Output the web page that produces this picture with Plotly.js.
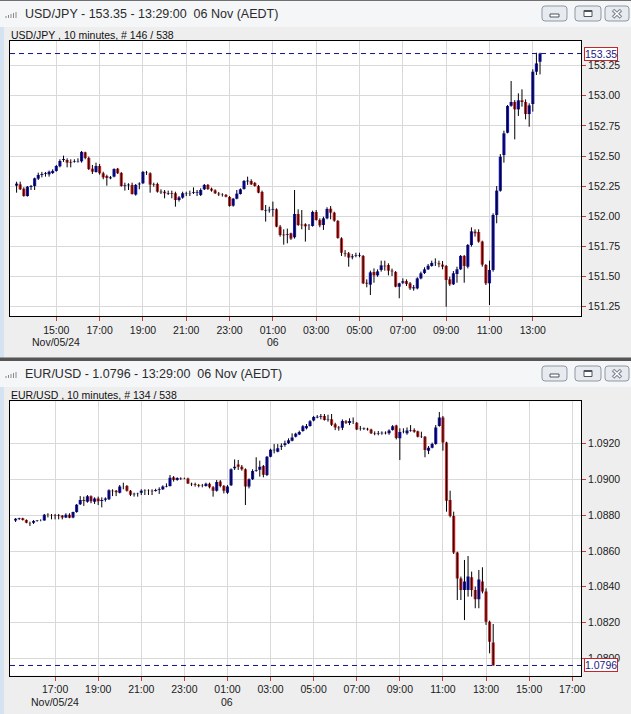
<!DOCTYPE html>
<html><head><meta charset="utf-8">
<script src="https://cdn.plot.ly/plotly-3.0.1.min.js"></script>
<style>html,body{margin:0;padding:0;background:#eeeeee;overflow:hidden}#chart{width:631px;height:714px}</style>
</head><body><div id="chart"></div>
<script>
// ---------------- DATA ----------------
const usdjpyTitle = 'USD/JPY - 153.35 - 13:29:00 \u00a006 Nov (AEDT)';
const usdjpySubtitle = 'USD/JPY , 10 minutes, # 146 / 538';
const eurusdTitle = 'EUR/USD - 1.0796 - 13:29:00 \u00a006 Nov (AEDT)';
const eurusdSubtitle = 'EUR/USD , 10 minutes, # 134 / 538';

const barMinutes = 10;
const usdjpyStart = '2024-11-05 13:10';
const eurusdStart = '2024-11-05 15:10';
const usdjpyLast = 153.35;
const eurusdLast = 1.0796;
const usdjpyLastLabel = '153.35';
const eurusdLastLabel = '1.0796';

const usdjpyOpen = [
152.254,152.265,152.229,152.168,152.243,152.251,152.312,152.343,152.351,152.348,
152.359,152.376,152.415,152.467,152.467,152.451,152.451,152.456,152.456,152.531,
152.484,152.395,152.368,152.417,152.357,152.334,152.315,152.329,152.395,152.359,
152.251,152.257,152.260,152.180,152.265,152.274,152.362,152.357,152.265,152.268,
152.199,152.204,152.188,152.191,152.191,152.135,152.155,152.188,152.191,152.193,
152.196,152.177,152.224,152.260,152.229,152.215,152.188,152.180,152.177,152.160,
152.088,152.146,152.185,152.227,152.290,152.293,152.276,152.251,152.202,152.047,
152.050,152.055,152.058,151.914,151.848,151.845,151.859,151.826,152.019,151.931,
151.934,151.920,151.920,152.036,151.969,151.928,151.983,152.063,152.030,151.961,
151.817,151.693,151.693,151.660,151.671,151.674,151.671,151.449,151.433,151.538,
151.510,151.555,151.590,151.596,151.549,151.538,151.416,151.449,151.463,151.444,
151.402,151.402,151.485,151.530,151.560,151.588,151.613,151.610,151.599,151.588,
151.477,151.436,151.521,151.560,151.671,151.582,151.762,151.873,151.870,151.790,
151.596,151.444,151.555,152.011,152.212,152.508,152.693,152.917,152.948,152.887,
152.962,152.948,152.848,152.931,153.199,153.282];
const usdjpyHigh = [
152.287,152.287,152.240,152.251,152.260,152.321,152.362,152.368,152.368,152.379,
152.390,152.426,152.473,152.503,152.481,152.473,152.473,152.481,152.542,152.536,
152.495,152.426,152.445,152.434,152.370,152.345,152.334,152.398,152.401,152.368,
152.279,152.274,152.279,152.268,152.282,152.376,152.376,152.365,152.279,152.279,
152.224,152.218,152.213,152.213,152.204,152.168,152.204,152.204,152.213,152.240,
152.218,152.232,152.268,152.268,152.238,152.224,152.202,152.191,152.185,152.168,
152.152,152.218,152.232,152.301,152.329,152.307,152.285,152.260,152.213,152.094,
152.080,152.122,152.066,151.928,151.892,151.898,151.864,152.218,152.058,152.052,
151.942,151.936,152.047,152.052,151.983,151.997,152.075,152.085,152.038,151.969,
151.826,151.720,151.704,151.687,151.698,151.698,151.679,151.477,151.549,151.568,
151.560,151.632,151.632,151.610,151.566,151.546,151.449,151.485,151.477,151.455,
151.430,151.494,151.541,151.577,151.604,151.632,151.651,151.632,151.629,151.596,
151.499,151.546,151.582,151.679,151.679,151.770,151.908,151.892,151.892,151.798,
151.604,151.632,152.025,152.251,152.516,152.710,152.923,153.122,152.964,153.020,
153.053,152.970,152.937,153.219,153.357,153.357];
const usdjpyLow = [
152.196,152.218,152.163,152.163,152.218,152.218,152.301,152.323,152.329,152.329,
152.351,152.370,152.406,152.451,152.406,152.406,152.445,152.445,152.445,152.473,
152.384,152.351,152.362,152.345,152.307,152.254,152.307,152.323,152.351,152.246,
152.213,152.218,152.180,152.171,152.224,152.268,152.343,152.196,152.246,152.196,
152.185,152.149,152.177,152.149,152.080,152.122,152.146,152.168,152.168,152.185,
152.168,152.168,152.218,152.218,152.204,152.185,152.168,152.163,152.157,152.080,
152.080,152.141,152.180,152.221,152.260,152.260,152.246,152.191,152.047,151.956,
152.030,151.997,151.909,151.831,151.765,151.776,151.804,151.815,151.920,151.892,
151.790,151.886,151.914,151.964,151.909,151.887,151.975,151.975,151.955,151.814,
151.671,151.665,151.582,151.643,151.660,151.660,151.438,151.411,151.347,151.449,
151.499,151.541,151.549,151.510,151.505,151.411,151.320,151.438,151.422,151.389,
151.383,151.394,151.477,151.521,151.555,151.582,151.588,151.577,151.560,151.250,
151.422,151.430,151.449,151.555,151.449,151.568,151.748,151.831,151.781,151.582,
151.430,151.264,151.541,151.942,152.204,152.445,152.688,152.909,152.638,152.832,
152.909,152.804,152.743,152.868,153.172,153.177];
const usdjpyClose = [
152.271,152.224,152.168,152.246,152.251,152.315,152.343,152.351,152.357,152.370,
152.376,152.417,152.459,152.475,152.445,152.445,152.456,152.459,152.534,152.484,
152.392,152.370,152.417,152.357,152.323,152.318,152.323,152.392,152.357,152.251,
152.257,152.263,152.185,152.260,152.271,152.368,152.359,152.263,152.260,152.204,
152.204,152.191,152.193,152.185,152.135,152.157,152.191,152.191,152.193,152.199,
152.202,152.218,152.260,152.227,152.213,152.191,152.182,152.177,152.163,152.085,
152.146,152.188,152.224,152.293,152.296,152.265,152.251,152.196,152.052,152.052,
152.055,152.061,151.914,151.845,151.842,151.851,151.815,152.019,151.928,151.925,
151.917,151.922,152.036,151.969,151.925,151.983,152.061,152.030,151.964,151.820,
151.698,151.687,151.657,151.668,151.676,151.679,151.444,151.441,151.535,151.510,
151.543,151.593,151.585,151.549,151.543,151.416,151.444,151.461,151.438,151.402,
151.411,151.485,151.527,151.560,151.590,151.613,151.615,151.602,151.582,151.472,
151.436,151.527,151.560,151.671,151.588,151.762,151.875,151.859,151.790,151.599,
151.444,151.555,152.011,152.213,152.494,152.688,152.915,152.948,152.887,152.962,
152.948,152.848,152.920,153.199,153.268,153.350];

const eurusdOpen = [
1.08770,1.08779,1.08783,1.08773,1.08757,1.08758,1.08768,1.08770,1.08771,1.08803,
1.08800,1.08798,1.08796,1.08798,1.08788,1.08803,1.08788,1.08818,1.08861,1.08885,
1.08876,1.08906,1.08876,1.08893,1.08879,1.08887,1.08889,1.08937,1.08937,1.08926,
1.08960,1.08963,1.08937,1.08917,1.08919,1.08926,1.08935,1.08937,1.08937,1.08935,
1.08941,1.08945,1.08961,1.08963,1.09012,1.08997,1.09008,1.09006,1.09006,1.08976,
1.08973,1.08969,1.08965,1.08963,1.08976,1.08956,1.08937,1.08988,1.08963,1.08926,
1.08967,1.09062,1.09084,1.09071,1.09057,1.08960,1.09001,1.09049,1.09055,1.09075,
1.09025,1.09127,1.09163,1.09155,1.09183,1.09193,1.09202,1.09217,1.09239,1.09252,
1.09271,1.09286,1.09299,1.09329,1.09347,1.09351,1.09355,1.09334,1.09336,1.09308,
1.09291,1.09289,1.09325,1.09315,1.09327,1.09317,1.09282,1.09284,1.09284,1.09280,
1.09258,1.09256,1.09258,1.09261,1.09258,1.09276,1.09302,1.09230,1.09265,1.09258,
1.09274,1.09276,1.09269,1.09237,1.09239,1.09161,1.09178,1.09198,1.09299,1.09347,
1.09206,1.08885,1.08796,1.08591,1.08447,1.08382,1.08382,1.08453,1.08382,1.08330,
1.08429,1.08373,1.08205,1.08088];
const eurusdHigh = [
1.08784,1.08786,1.08786,1.08777,1.08764,1.08773,1.08773,1.08777,1.08807,1.08811,
1.08807,1.08807,1.08807,1.08801,1.08811,1.08811,1.08820,1.08863,1.08907,1.08904,
1.08913,1.08911,1.08900,1.08904,1.08900,1.08900,1.08945,1.08945,1.08941,1.08969,
1.08982,1.08969,1.08941,1.08926,1.08926,1.08945,1.08945,1.08945,1.08945,1.08948,
1.08956,1.08967,1.08978,1.09025,1.09019,1.09012,1.09012,1.09010,1.09010,1.08982,
1.08982,1.08975,1.08975,1.08982,1.08982,1.08963,1.08997,1.08997,1.08969,1.08969,
1.09062,1.09112,1.09109,1.09081,1.09062,1.09006,1.09057,1.09124,1.09105,1.09081,
1.09131,1.09172,1.09198,1.09198,1.09202,1.09217,1.09230,1.09258,1.09261,1.09273,
1.09304,1.09310,1.09332,1.09355,1.09360,1.09366,1.09366,1.09362,1.09366,1.09317,
1.09299,1.09336,1.09332,1.09342,1.09347,1.09321,1.09299,1.09291,1.09289,1.09284,
1.09269,1.09271,1.09269,1.09269,1.09280,1.09304,1.09306,1.09286,1.09286,1.09291,
1.09304,1.09286,1.09273,1.09267,1.09243,1.09187,1.09206,1.09304,1.09377,1.09355,
1.09211,1.08937,1.08820,1.08596,1.08457,1.08550,1.08572,1.08485,1.08401,1.08494,
1.08509,1.08391,1.08211,1.08192];
const eurusdLow = [
1.08762,1.08773,1.08770,1.08755,1.08740,1.08751,1.08764,1.08766,1.08770,1.08788,
1.08777,1.08777,1.08777,1.08777,1.08784,1.08783,1.08783,1.08814,1.08857,1.08852,
1.08870,1.08867,1.08863,1.08857,1.08844,1.08876,1.08885,1.08907,1.08907,1.08922,
1.08945,1.08932,1.08907,1.08904,1.08904,1.08913,1.08913,1.08913,1.08913,1.08932,
1.08919,1.08941,1.08956,1.08960,1.08988,1.08993,1.08997,1.09001,1.08975,1.08963,
1.08960,1.08956,1.08956,1.08960,1.08950,1.08904,1.08932,1.08956,1.08922,1.08919,
1.08963,1.09053,1.09053,1.09049,1.08857,1.08950,1.08997,1.09043,1.09016,1.09012,
1.09019,1.09124,1.09146,1.09152,1.09165,1.09183,1.09198,1.09213,1.09235,1.09248,
1.09267,1.09280,1.09295,1.09325,1.09342,1.09336,1.09329,1.09323,1.09299,1.09276,
1.09273,1.09276,1.09310,1.09304,1.09310,1.09276,1.09273,1.09276,1.09273,1.09254,
1.09247,1.09247,1.09250,1.09252,1.09250,1.09273,1.09224,1.09109,1.09258,1.09250,
1.09267,1.09261,1.09235,1.09232,1.09124,1.09142,1.09174,1.09194,1.09295,1.09161,
1.08820,1.08788,1.08583,1.08326,1.08326,1.08214,1.08345,1.08345,1.08280,1.08280,
1.08363,1.08187,1.08028,1.07959];
const eurusdClose = [
1.08781,1.08783,1.08773,1.08758,1.08755,1.08768,1.08770,1.08771,1.08803,1.08801,
1.08798,1.08796,1.08798,1.08788,1.08803,1.08786,1.08818,1.08859,1.08885,1.08879,
1.08906,1.08878,1.08893,1.08878,1.08885,1.08893,1.08939,1.08934,1.08928,1.08961,
1.08961,1.08937,1.08915,1.08920,1.08920,1.08937,1.08937,1.08935,1.08934,1.08941,
1.08945,1.08961,1.08963,1.09010,1.08997,1.09008,1.09006,1.09004,1.08978,1.08973,
1.08969,1.08965,1.08963,1.08976,1.08956,1.08937,1.08986,1.08963,1.08937,1.08960,
1.09057,1.09071,1.09071,1.09057,1.08960,1.09001,1.09047,1.09053,1.09071,1.09027,
1.09127,1.09166,1.09166,1.09174,1.09189,1.09202,1.09219,1.09235,1.09256,1.09265,
1.09297,1.09299,1.09325,1.09349,1.09351,1.09355,1.09332,1.09336,1.09306,1.09291,
1.09286,1.09327,1.09317,1.09327,1.09325,1.09280,1.09284,1.09286,1.09280,1.09258,
1.09256,1.09258,1.09261,1.09258,1.09274,1.09297,1.09232,1.09265,1.09267,1.09274,
1.09276,1.09267,1.09239,1.09239,1.09165,1.09178,1.09198,1.09291,1.09347,1.09207,
1.08881,1.08796,1.08591,1.08447,1.08382,1.08429,1.08457,1.08382,1.08330,1.08441,
1.08373,1.08205,1.08093,1.07960];

const usdjpyTickTimes = ['2024-11-05 15:00','2024-11-05 17:00','2024-11-05 19:00','2024-11-05 21:00','2024-11-05 23:00','2024-11-06 01:00','2024-11-06 03:00','2024-11-06 05:00','2024-11-06 07:00','2024-11-06 09:00','2024-11-06 11:00','2024-11-06 13:00'];
const usdjpyTickLabels = ['15:00','17:00','19:00','21:00','23:00','01:00','03:00','05:00','07:00','09:00','11:00','13:00'];
const eurusdTickTimes = ['2024-11-05 17:00','2024-11-05 19:00','2024-11-05 21:00','2024-11-05 23:00','2024-11-06 01:00','2024-11-06 03:00','2024-11-06 05:00','2024-11-06 07:00','2024-11-06 09:00','2024-11-06 11:00','2024-11-06 13:00','2024-11-06 15:00','2024-11-06 17:00'];
const eurusdTickLabels = ['17:00','19:00','21:00','23:00','01:00','03:00','05:00','07:00','09:00','11:00','13:00','15:00','17:00'];
const usdjpyPriceTicks = [151.25, 151.50, 151.75, 152.00, 152.25, 152.50, 152.75, 153.00, 153.25];
const eurusdPriceTicks = [1.0800, 1.0820, 1.0840, 1.0860, 1.0880, 1.0900, 1.0920];
const dateRowTimesTop = ['2024-11-05 15:00','2024-11-06 01:00'];
const dateRowTimesBottom = ['2024-11-05 17:00','2024-11-06 01:00'];
const dateRowLabels = ['Nov/05/24','06'];

// ---------------- BUILD ----------------
const W = 631, H = 714;
const FONT = 'Liberation Sans, Arial, sans-serif';
const UP = '#1818c4', DOWN = '#d42a2a';
const X = v => v / W, Y = v => 1 - v / H;

function buildTimes(start, n) {
  const [d, t] = start.split(' ');
  const [yy, mm, dd] = d.split('-').map(Number);
  const [hh, mi] = t.split(':').map(Number);
  const base = Date.UTC(yy, mm - 1, dd, hh, mi);
  const out = [];
  for (let i = 0; i < n; i++) out.push(new Date(base + i * barMinutes * 60000).toISOString().slice(0, 16).replace('T', ' '));
  return out;
}

function candles(times, o, h, l, c, xa, ya) {
  const wx = [], wy = [], base = [], size = [], cols = [];
  for (let i = 0; i < times.length; i++) {
    wx.push(times[i], times[i], null); wy.push(l[i], h[i], null);
    base.push(Math.min(o[i], c[i])); size.push(Math.abs(c[i] - o[i]));
    cols.push(c[i] >= o[i] ? UP : DOWN);
  }
  return [
    {type: 'scatter', mode: 'lines', x: wx, y: wy, xaxis: xa, yaxis: ya, line: {color: '#000', width: 1}, hoverinfo: 'skip'},
    {type: 'bar', x: times, y: size, base: base, width: 520000, xaxis: xa, yaxis: ya, marker: {color: cols, line: {width: 0}}, hoverinfo: 'skip'}
  ];
}

const tTop = buildTimes(usdjpyStart, usdjpyClose.length);
const tBot = buildTimes(eurusdStart, eurusdClose.length);
const data = [
  ...candles(tTop, usdjpyOpen, usdjpyHigh, usdjpyLow, usdjpyClose, 'x', 'y'),
  ...candles(tBot, eurusdOpen, eurusdHigh, eurusdLow, eurusdClose, 'x2', 'y2')
];

const axisBase = {showline: true, linecolor: '#000', linewidth: 1, mirror: true, ticks: 'outside', ticklen: 4, tickwidth: 1, tickcolor: '#c83c3c', showgrid: true, gridcolor: '#d9d9d9', gridwidth: 1, zeroline: false, fixedrange: true, tickfont: {family: FONT, size: 10.5, color: '#1a1a1a'}};

function rr(x0, y0, x1, y1, r) {
  const a = v => X(v).toFixed(5), b = v => Y(v).toFixed(5);
  return `M${a(x0 + r)},${b(y0)} L${a(x1 - r)},${b(y0)} Q${a(x1)},${b(y0)} ${a(x1)},${b(y0 + r)} L${a(x1)},${b(y1 - r)} Q${a(x1)},${b(y1)} ${a(x1 - r)},${b(y1)} L${a(x0 + r)},${b(y1)} Q${a(x0)},${b(y1)} ${a(x0)},${b(y1 - r)} L${a(x0)},${b(y0 + r)} Q${a(x0)},${b(y0)} ${a(x0 + r)},${b(y0)} Z`;
}
const rect = (x0, y0, x1, y1, fill, line, lw, layer) => ({type: 'rect', xref: 'paper', yref: 'paper', x0: X(x0), x1: X(x1), y0: Y(y1), y1: Y(y0), fillcolor: fill, line: {color: line || fill, width: lw || 0}, layer: layer || 'above'});
const seg = (x0, y0, x1, y1, color, w) => ({type: 'line', xref: 'paper', yref: 'paper', x0: X(x0), x1: X(x1), y0: Y(y0), y1: Y(y1), line: {color: color, width: w}, layer: 'above'});

const shapes = [];
const annotations = [];

function chrome(off, title, sub) {
  shapes.push(rect(0, off, 631, off + 27, '#f5f6f8'));
  [[6, 16], [8.5, 15], [11, 14], [13.5, 13], [16, 12]].forEach(([x, top]) => shapes.push(seg(x, off + 18, x, off + top, '#8a8a8a', 1)));
  [[542, 567], [575, 601], [605, 629]].forEach(([a, b]) => shapes.push({type: 'path', xref: 'paper', yref: 'paper', path: rr(a, off + 6, b, off + 21, 3), fillcolor: '#e7eaee', line: {color: '#8f98a4', width: 1}, layer: 'above'}));
  shapes.push(rect(550, off + 14, 559, off + 17, '#ffffff', '#4d5560', 1));
  shapes.push(rect(584, off + 10.5, 592, off + 16.5, '#ffffff', '#4d5560', 1));
  shapes.push(seg(584, off + 11.2, 592, off + 11.2, '#4d5560', 1.6));
  shapes.push(seg(613, off + 10, 621, off + 17.5, '#7c8490', 3.6));
  shapes.push(seg(613, off + 17.5, 621, off + 10, '#7c8490', 3.6));
  shapes.push(seg(613.6, off + 10.6, 620.4, off + 16.9, '#ffffff', 1.4));
  shapes.push(seg(613.6, off + 16.9, 620.4, off + 10.6, '#ffffff', 1.4));
  annotations.push({xref: 'paper', yref: 'paper', x: X(23), y: Y(off + 13.5), xanchor: 'left', yanchor: 'middle', text: title, showarrow: false, font: {family: FONT, size: 12.5, color: '#2b2b2b'}});
  annotations.push({xref: 'paper', yref: 'paper', x: X(9), y: Y(off + 34.5), xanchor: 'left', yanchor: 'middle', text: sub, showarrow: false, font: {family: FONT, size: 10.5, color: '#111'}});
}

shapes.push(rect(0, 27, 4, 358, '#d5e2f2'));
shapes.push(rect(0, 387, 4, 714, '#d5e2f2'));
chrome(0, usdjpyTitle, usdjpySubtitle);
chrome(360, eurusdTitle, eurusdSubtitle);
shapes.push(rect(0, 0, 631, 1, '#707070'));
shapes.push(rect(0, 357.5, 631, 361, '#555555'));

// last price lines and boxes
shapes.push({type: 'line', xref: 'x domain', yref: 'y', x0: 0, x1: 1, y0: usdjpyLast, y1: usdjpyLast, line: {color: '#14148c', width: 1, dash: '5px,4px'}, layer: 'above'});
shapes.push({type: 'line', xref: 'x2 domain', yref: 'y2', x0: 0, x1: 1, y0: eurusdLast, y1: eurusdLast, line: {color: '#14148c', width: 1, dash: '5px,4px'}, layer: 'above'});
annotations.push({xref: 'paper', yref: 'y', x: X(584), y: usdjpyLast, xanchor: 'left', yanchor: 'middle', text: usdjpyLastLabel, showarrow: false, bgcolor: '#ffffff', bordercolor: '#c0282d', borderwidth: 1, borderpad: 0, font: {family: FONT, size: 10.5, color: '#1a1a80'}});
annotations.push({xref: 'paper', yref: 'y2', x: X(584), y: eurusdLast, xanchor: 'left', yanchor: 'middle', text: eurusdLastLabel, showarrow: false, bgcolor: '#ffffff', bordercolor: '#c0282d', borderwidth: 1, borderpad: 0, font: {family: FONT, size: 10.5, color: '#1a1a80'}});

dateRowTimesTop.forEach((t, k) => annotations.push({xref: 'x', yref: 'paper', x: t, y: Y(342), xanchor: 'center', yanchor: 'middle', text: dateRowLabels[k], showarrow: false, font: {family: FONT, size: 10.5, color: '#1a1a1a'}}));
dateRowTimesBottom.forEach((t, k) => annotations.push({xref: 'x2', yref: 'paper', x: t, y: Y(702), xanchor: 'center', yanchor: 'middle', text: dateRowLabels[k], showarrow: false, font: {family: FONT, size: 10.5, color: '#1a1a1a'}}));

const layout = {
  width: W, height: H, margin: {l: 0, r: 0, t: 0, b: 0},
  paper_bgcolor: '#eeeeee', plot_bgcolor: '#ffffff', showlegend: false, barmode: 'overlay',
  xaxis: {...axisBase, type: 'date', domain: [X(10), X(581)], range: ['2024-11-05 12:51:45', '2024-11-06 15:13:31'], tickmode: 'array', tickvals: usdjpyTickTimes, ticktext: usdjpyTickLabels, anchor: 'y'},
  yaxis: {...axisBase, domain: [Y(316), Y(41)], range: [151.173, 153.454], side: 'right', tickmode: 'array', tickvals: usdjpyPriceTicks, tickformat: '.2f', anchor: 'x'},
  xaxis2: {...axisBase, type: 'date', domain: [X(10), X(581)], range: ['2024-11-05 14:54:26', '2024-11-06 17:24:30'], tickmode: 'array', tickvals: eurusdTickTimes, ticktext: eurusdTickLabels, anchor: 'y2'},
  yaxis2: {...axisBase, domain: [Y(675.5), Y(401.3)], range: [1.07904, 1.09437], side: 'right', tickmode: 'array', tickvals: eurusdPriceTicks, tickformat: '.4f', anchor: 'x2'},
  shapes: shapes, annotations: annotations
};

Plotly.newPlot('chart', data, layout, {displayModeBar: false, staticPlot: true});
</script>
</body></html>
